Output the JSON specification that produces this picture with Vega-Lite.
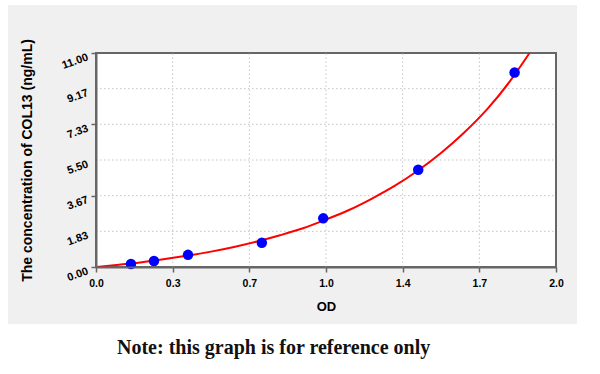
{
  "$schema": "https://vega.github.io/schema/vega-lite/v6.json",
  "width": 460,
  "height": 214,
  "autosize": "none",
  "padding": {"left": 96, "top": 53, "right": 44, "bottom": 107},
  "background": "white",
  "config": {
    "view": {"stroke": null},
    "axis": {"labelOverlap": false, "labelFlush": false}
  },
  "title": {
    "text": "Note: this graph is for reference only",
    "orient": "bottom",
    "anchor": "start",
    "frame": "group",
    "dx": 21,
    "offset": 14,
    "font": "Liberation Serif",
    "fontSize": 20,
    "fontWeight": "bold",
    "color": "#111111"
  },
  "datasets": {
    "curve": [
      {"od": 0, "conc": 0},
      {"od": 0.1, "conc": 0.12},
      {"od": 0.2, "conc": 0.25},
      {"od": 0.3, "conc": 0.41},
      {"od": 0.4, "conc": 0.59},
      {"od": 0.5, "conc": 0.79},
      {"od": 0.6, "conc": 1.03},
      {"od": 0.7, "conc": 1.31},
      {"od": 0.8, "conc": 1.63},
      {"od": 0.9, "conc": 1.99},
      {"od": 1.0, "conc": 2.44},
      {"od": 1.1, "conc": 2.93},
      {"od": 1.2, "conc": 3.52},
      {"od": 1.3, "conc": 4.18},
      {"od": 1.4, "conc": 4.96},
      {"od": 1.5, "conc": 5.86},
      {"od": 1.6, "conc": 6.9},
      {"od": 1.7, "conc": 8.1},
      {"od": 1.8, "conc": 9.55},
      {"od": 1.885, "conc": 11.0}
    ],
    "points": [
      {"od": 0.152, "conc": 0.156},
      {"od": 0.252, "conc": 0.312},
      {"od": 0.4, "conc": 0.625},
      {"od": 0.721, "conc": 1.25},
      {"od": 0.988, "conc": 2.5},
      {"od": 1.401, "conc": 5.0},
      {"od": 1.82, "conc": 10.0}
    ],
    "vgrid": [
      {"gx": 0.333333},
      {"gx": 0.666667},
      {"gx": 1.0},
      {"gx": 1.333333},
      {"gx": 1.666667}
    ],
    "hgrid": [
      {"gy": 1.833333},
      {"gy": 3.666667},
      {"gy": 5.5},
      {"gy": 7.333333},
      {"gy": 9.166667}
    ],
    "ylabels": [
      {"v": 0, "t": "0.00"},
      {"v": 1.833333, "t": "1.83"},
      {"v": 3.666667, "t": "3.67"},
      {"v": 5.5, "t": "5.50"},
      {"v": 7.333333, "t": "7.33"},
      {"v": 9.166667, "t": "9.17"},
      {"v": 11, "t": "11.00"}
    ]
  },
  "layer": [
    {
      "data": {"values": [{}]},
      "mark": {"type": "rect", "fill": "#f0f0f0"},
      "encoding": {
        "x": {"datum": -0.3826, "type": "quantitative"},
        "x2": {"datum": 2.0913},
        "y": {"datum": -2.93, "type": "quantitative"},
        "y2": {"datum": 13.47}
      }
    },
    {
      "data": {"values": [{}]},
      "mark": {"type": "rect", "fill": "white", "stroke": "#666666", "strokeWidth": 2},
      "encoding": {
        "x": {"datum": 0, "type": "quantitative"},
        "x2": {"datum": 2},
        "y": {"datum": 0, "type": "quantitative"},
        "y2": {"datum": 11}
      }
    },
    {
      "data": {"name": "ylabels"},
      "mark": {"type": "text", "angle": 340, "align": "right", "baseline": "middle", "dx": -9, "dy": 1, "font": "Liberation Sans", "fontWeight": "bold", "fontSize": 11, "color": "#000000"},
      "encoding": {
        "y": {"field": "v", "type": "quantitative"},
        "x": {"datum": 0, "type": "quantitative"},
        "text": {"field": "t"}
      }
    },
    {
      "data": {"name": "vgrid"},
      "mark": {"type": "rule", "color": "#c4c4c4", "strokeWidth": 1, "strokeDash": [1.5, 2.5]},
      "encoding": {
        "x": {"field": "gx", "type": "quantitative"},
        "y": {"datum": 0, "type": "quantitative"},
        "y2": {"datum": 11}
      }
    },
    {
      "data": {"name": "hgrid"},
      "mark": {"type": "rule", "color": "#c4c4c4", "strokeWidth": 1, "strokeDash": [1.5, 2.5]},
      "encoding": {
        "y": {"field": "gy", "type": "quantitative"},
        "x": {"datum": 0, "type": "quantitative"},
        "x2": {"datum": 2}
      }
    },
    {
      "data": {"name": "curve"},
      "mark": {"type": "line", "color": "#ff0000", "strokeWidth": 2, "interpolate": "monotone", "clip": true},
      "encoding": {
        "x": {
          "field": "od",
          "type": "quantitative",
          "scale": {"domain": [0, 2], "nice": false, "zero": false},
          "axis": {
            "values": [0, 0.083333, 0.166667, 0.25, 0.333333, 0.416667, 0.5, 0.583333, 0.666667, 0.75, 0.833333, 0.916667, 1, 1.083333, 1.166667, 1.25, 1.333333, 1.416667, 1.5, 1.583333, 1.666667, 1.75, 1.833333, 1.916667, 2],
            "labelExpr": "round(datum.value*12) % 4 == 0 ? ['0.0','0.3','0.7','1.0','1.4','1.7','2.0'][round(datum.value*3)] : ''",
            "grid": false,
            "zindex": 1,
            "domainColor": "#666666",
            "domainWidth": 2,
            "tickColor": "#666666",
            "tickWidth": 1.5,
            "tickSize": 5,
            "labelFont": "Liberation Sans",
            "labelFontWeight": "bold",
            "labelFontSize": 10.5,
            "labelColor": "#000000",
            "labelPadding": 6,
            "labelFlush": false,
            "labelOverlap": false,
            "title": "OD",
            "titleFont": "Liberation Sans",
            "titleFontSize": 13,
            "titleFontWeight": "bold",
            "titleColor": "#000000",
            "titlePadding": 12
          }
        },
        "y": {
          "field": "conc",
          "type": "quantitative",
          "scale": {"domain": [0, 11], "nice": false, "zero": false},
          "axis": {
            "values": [0, 0.458333, 0.916667, 1.375, 1.833333, 2.291667, 2.75, 3.208333, 3.666667, 4.125, 4.583333, 5.041667, 5.5, 5.958333, 6.416667, 6.875, 7.333333, 7.791667, 8.25, 8.708333, 9.166667, 9.625, 10.083333, 10.541667, 11],
            "labels": false,
            "grid": false,
            "zindex": 1,
            "domainColor": "#666666",
            "domainWidth": 2,
            "tickColor": "#666666",
            "tickWidth": 1.5,
            "tickSize": 5,
            "title": "The concentration of COL13 (ng/mL)",
            "titleFont": "Liberation Sans",
            "titleFontSize": 14,
            "titleFontWeight": "bold",
            "titleColor": "#000000",
            "titlePadding": 56
          }
        }
      }
    },
    {
      "data": {"name": "points"},
      "mark": {"type": "circle", "color": "#0000ff", "opacity": 1, "size": 110},
      "encoding": {
        "x": {"field": "od", "type": "quantitative"},
        "y": {"field": "conc", "type": "quantitative"}
      }
    }
  ]
}
